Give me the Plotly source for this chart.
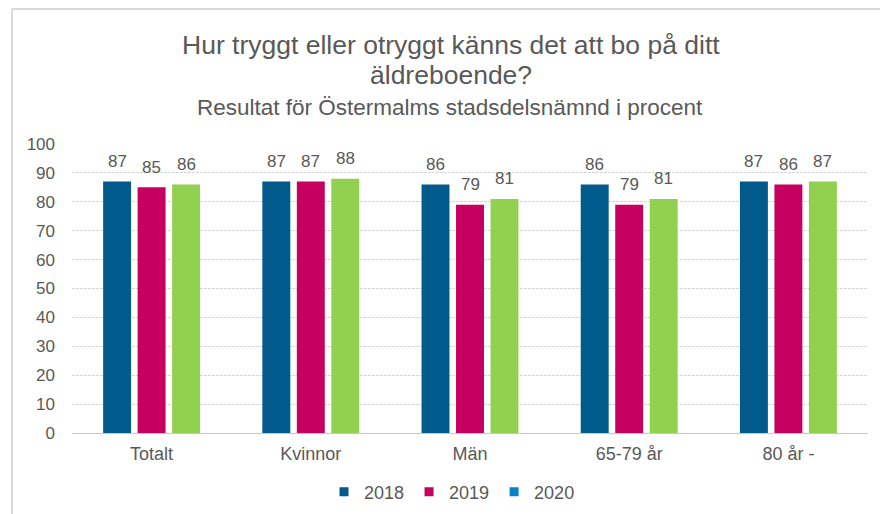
import plotly.graph_objects as go

categories = ["Totalt", "Kvinnor", "Män", "65-79 år", "80 år -"]
years = ["2018", "2019", "2020"]
values_2018 = [87, 87, 86, 86, 87]
values_2019 = [85, 87, 79, 79, 86]
values_2020 = [86, 88, 81, 81, 87]
y_ticks = [0, 10, 20, 30, 40, 50, 60, 70, 80, 90, 100]

bar_colors = ["#005A8C", "#C6005E", "#92D050"]
legend_colors = ["#005A8C", "#C6005E", "#0A80C8"]
series = [values_2018, values_2019, values_2020]

OFF = 8  # page body margin
W, H = 888, 514
L, R, T, B = 72 - OFF, 28, 144 - OFF, 89
pw, ph = W - L - R, H - T - B

def px(x):
    return (x - OFF - L) / pw

def py(y):
    return (H - B - (y - OFF)) / ph

FONT = "Liberation Sans, Arial, sans-serif"
GRAY = "#595959"
BARGAP, GROUPGAP = 0.35, 0.19
slot_px = pw / len(categories) * (1 - BARGAP) / 3

fig = go.Figure()
for i, (name, vals, col) in enumerate(zip(years, series, bar_colors)):
    fig.add_trace(go.Bar(
        x=categories, y=vals, name=name, marker_color=col, marker_line_width=0,
        showlegend=False, hoverinfo="x+y+name",
    ))
    for c, v in zip(categories, vals):
        fig.add_annotation(x=c, y=v, text=str(v), showarrow=False,
                           xref="x", yref="y", xanchor="center", yanchor="middle",
                           xshift=(i - 1) * slot_px, yshift=20,
                           font=dict(family=FONT, size=17, color=GRAY))
for name, col in zip(years, legend_colors):
    fig.add_trace(go.Scatter(
        x=[None], y=[None], mode="markers", name=name,
        marker=dict(symbol="square", size=9, color=col),
    ))

fig.update_layout(
    width=W, height=H, margin=dict(l=L, r=R, t=T, b=B, autoexpand=False),
    paper_bgcolor="white", plot_bgcolor="white",
    barmode="group", bargap=BARGAP, bargroupgap=GROUPGAP,
    font=dict(family=FONT, color=GRAY, size=17),
    xaxis=dict(showgrid=False, ticks="", tickfont=dict(size=18, color=GRAY), automargin=False,
               showline=True, linecolor="#C8C8C8", linewidth=1, ticklabelstandoff=4),
    yaxis=dict(range=[0, 100], tickvals=y_ticks, showgrid=True, automargin=False,
               gridcolor="#D6D6D6", griddash="3px,1px", gridwidth=1,
               zeroline=False, ticks="", ticklabelstandoff=16,
               tickfont=dict(size=17, color=GRAY)),
    legend=dict(orientation="h", x=px(452), xanchor="center", y=py(492), yanchor="middle",
                font=dict(size=18, color=GRAY), itemwidth=30),
    showlegend=True,
)

fig.add_annotation(text="Hur tryggt eller otryggt känns det att bo på ditt",
                   xref="paper", yref="paper", x=px(451), y=py(45), xanchor="center", yanchor="middle",
                   showarrow=False, font=dict(family=FONT, size=26.5, color=GRAY))
fig.add_annotation(text="äldreboende?",
                   xref="paper", yref="paper", x=px(451), y=py(75), xanchor="center", yanchor="middle",
                   showarrow=False, font=dict(family=FONT, size=26.5, color=GRAY))
fig.add_annotation(text="Resultat för Östermalms stadsdelsnämnd i procent",
                   xref="paper", yref="paper", x=px(450), y=py(107), xanchor="center", yanchor="middle",
                   showarrow=False, font=dict(family=FONT, size=22.5, color=GRAY))

fig.add_shape(type="line", xref="paper", yref="paper", x0=px(12), x1=px(12), y0=py(9), y1=py(530),
              line=dict(color="#D9D9D9", width=2))
fig.add_shape(type="line", xref="paper", yref="paper", x0=px(12), x1=px(910), y0=py(9), y1=py(9),
              line=dict(color="#D9D9D9", width=2))

fig.write_html("out.html")
